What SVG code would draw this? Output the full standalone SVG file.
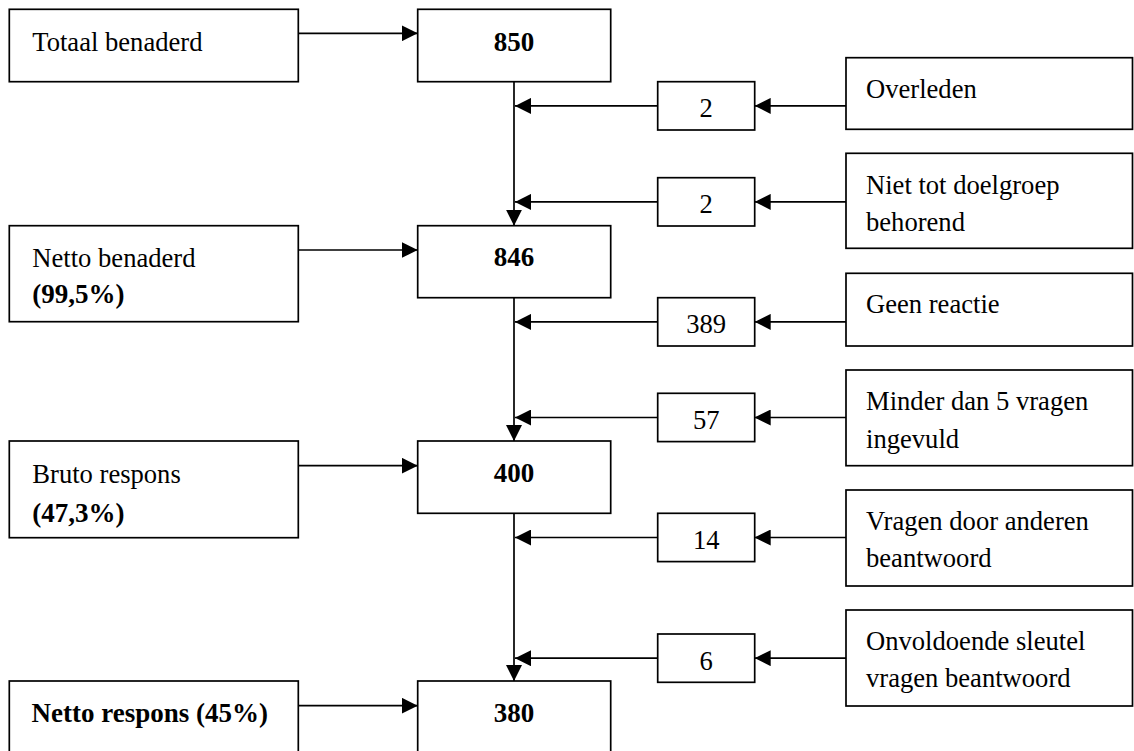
<svg xmlns="http://www.w3.org/2000/svg" width="1134" height="751" viewBox="0 0 1134 751">
<defs>
<style>
.box{fill:#fff;stroke:#000;stroke-width:1.7}
.t{font-family:"Liberation Serif","Times New Roman",serif;font-size:26.6px;fill:#000}
.b{font-weight:bold;font-size:27px}
.c{text-anchor:middle}
.ln{stroke:#000;stroke-width:1.7;fill:none}
</style>
<marker id="ah" markerUnits="userSpaceOnUse" markerWidth="16" markerHeight="16" refX="16" refY="8" orient="auto">
<path d="M0,0 L16,8 L0,16 z" fill="#000"/>
</marker>
</defs>
<rect width="1134" height="751" fill="#fff"/>
<g id="connectors">
<line class="ln" x1="298.3" y1="33.3" x2="417.7" y2="33.3" marker-end="url(#ah)"/>
<line class="ln" x1="298.3" y1="250" x2="417.7" y2="250" marker-end="url(#ah)"/>
<line class="ln" x1="298.3" y1="465.7" x2="417.7" y2="465.7" marker-end="url(#ah)"/>
<line class="ln" x1="298.3" y1="705.7" x2="417.7" y2="705.7" marker-end="url(#ah)"/>
<line class="ln" x1="514" y1="81.7" x2="514" y2="225.7" marker-end="url(#ah)"/>
<line class="ln" x1="514" y1="297.7" x2="514" y2="441" marker-end="url(#ah)"/>
<line class="ln" x1="514" y1="513.3" x2="514" y2="681" marker-end="url(#ah)"/>
<line class="ln" x1="846" y1="105.9" x2="754.7" y2="105.9" marker-end="url(#ah)"/>
<line class="ln" x1="657.7" y1="105.9" x2="515" y2="105.9" marker-end="url(#ah)"/>
<line class="ln" x1="846" y1="201.9" x2="754.7" y2="201.9" marker-end="url(#ah)"/>
<line class="ln" x1="657.7" y1="201.9" x2="515" y2="201.9" marker-end="url(#ah)"/>
<line class="ln" x1="846" y1="321.9" x2="754.7" y2="321.9" marker-end="url(#ah)"/>
<line class="ln" x1="657.7" y1="321.9" x2="515" y2="321.9" marker-end="url(#ah)"/>
<line class="ln" x1="846" y1="417.5" x2="754.7" y2="417.5" marker-end="url(#ah)"/>
<line class="ln" x1="657.7" y1="417.5" x2="515" y2="417.5" marker-end="url(#ah)"/>
<line class="ln" x1="846" y1="537.5" x2="754.7" y2="537.5" marker-end="url(#ah)"/>
<line class="ln" x1="657.7" y1="537.5" x2="515" y2="537.5" marker-end="url(#ah)"/>
<line class="ln" x1="846" y1="658.2" x2="754.7" y2="658.2" marker-end="url(#ah)"/>
<line class="ln" x1="657.7" y1="658.2" x2="515" y2="658.2" marker-end="url(#ah)"/>
</g>
<g id="totaal-benaderd"><rect class="box" x="9.3" y="9.3" width="289" height="72.4"/><text class="t" x="32.3" y="50.7">Totaal benaderd</text></g>
<g id="n850"><rect class="box" x="417.7" y="9.3" width="193" height="72.4"/><text class="t b c" x="514" y="50.5">850</text></g>
<g id="netto-benaderd"><rect class="box" x="9.3" y="225.7" width="289" height="96"/><text class="t" x="32.3" y="266.7">Netto benaderd</text><text class="t b" x="32.3" y="303.3">(99,5%)</text></g>
<g id="n846"><rect class="box" x="417.7" y="225.7" width="193" height="72"/><text class="t b c" x="514" y="266.2">846</text></g>
<g id="bruto-respons"><rect class="box" x="9.3" y="441" width="289" height="96.7"/><text class="t" x="32.3" y="483">Bruto respons</text><text class="t b" x="32.3" y="521.7">(47,3%)</text></g>
<g id="n400"><rect class="box" x="417.7" y="441" width="193" height="72.3"/><text class="t b c" x="514" y="482">400</text></g>
<g id="netto-respons"><rect class="box" x="9.3" y="681" width="289" height="73"/><text class="t b" x="31.5" y="721.7">Netto respons (45%)</text></g>
<g id="n380"><rect class="box" x="417.7" y="681" width="193" height="73"/><text class="t b c" x="514" y="721.7">380</text></g>
<g id="s2a"><rect class="box" x="657.7" y="81.7" width="97" height="48.3"/><text class="t c" x="706.2" y="117.3">2</text></g>
<g id="s2b"><rect class="box" x="657.7" y="177.7" width="97" height="48.3"/><text class="t c" x="706.2" y="213.3">2</text></g>
<g id="s389"><rect class="box" x="657.7" y="297.7" width="97" height="48.3"/><text class="t c" x="706.2" y="333.3">389</text></g>
<g id="s57"><rect class="box" x="657.7" y="393.3" width="97" height="48.3"/><text class="t c" x="706.2" y="428.9">57</text></g>
<g id="s14"><rect class="box" x="657.7" y="513.3" width="97" height="48.3"/><text class="t c" x="706.2" y="548.9">14</text></g>
<g id="s6"><rect class="box" x="657.7" y="634" width="97" height="48.3"/><text class="t c" x="706.2" y="669.6">6</text></g>
<g id="overleden"><rect class="box" x="846" y="57.7" width="286.5" height="71.6"/><text class="t" x="866" y="98.3">Overleden</text></g>
<g id="niet-doelgroep"><rect class="box" x="846" y="153.3" width="286.5" height="95"/><text class="t" x="866" y="194.3">Niet tot doelgroep</text><text class="t" x="866" y="231">behorend</text></g>
<g id="geen-reactie"><rect class="box" x="846" y="273.3" width="286.5" height="72.7"/><text class="t" x="866" y="313.3">Geen reactie</text></g>
<g id="minder-dan-5"><rect class="box" x="846" y="370" width="286.5" height="95.7"/><text class="t" x="866" y="410">Minder dan 5 vragen</text><text class="t" x="866" y="447.7">ingevuld</text></g>
<g id="vragen-anderen"><rect class="box" x="846" y="490" width="286.5" height="96"/><text class="t" x="866" y="530">Vragen door anderen</text><text class="t" x="866" y="567.3">beantwoord</text></g>
<g id="onvoldoende"><rect class="box" x="846" y="610" width="286.5" height="96"/><text class="t" x="866" y="650">Onvoldoende sleutel</text><text class="t" x="866" y="686.7">vragen beantwoord</text></g>
</svg>
